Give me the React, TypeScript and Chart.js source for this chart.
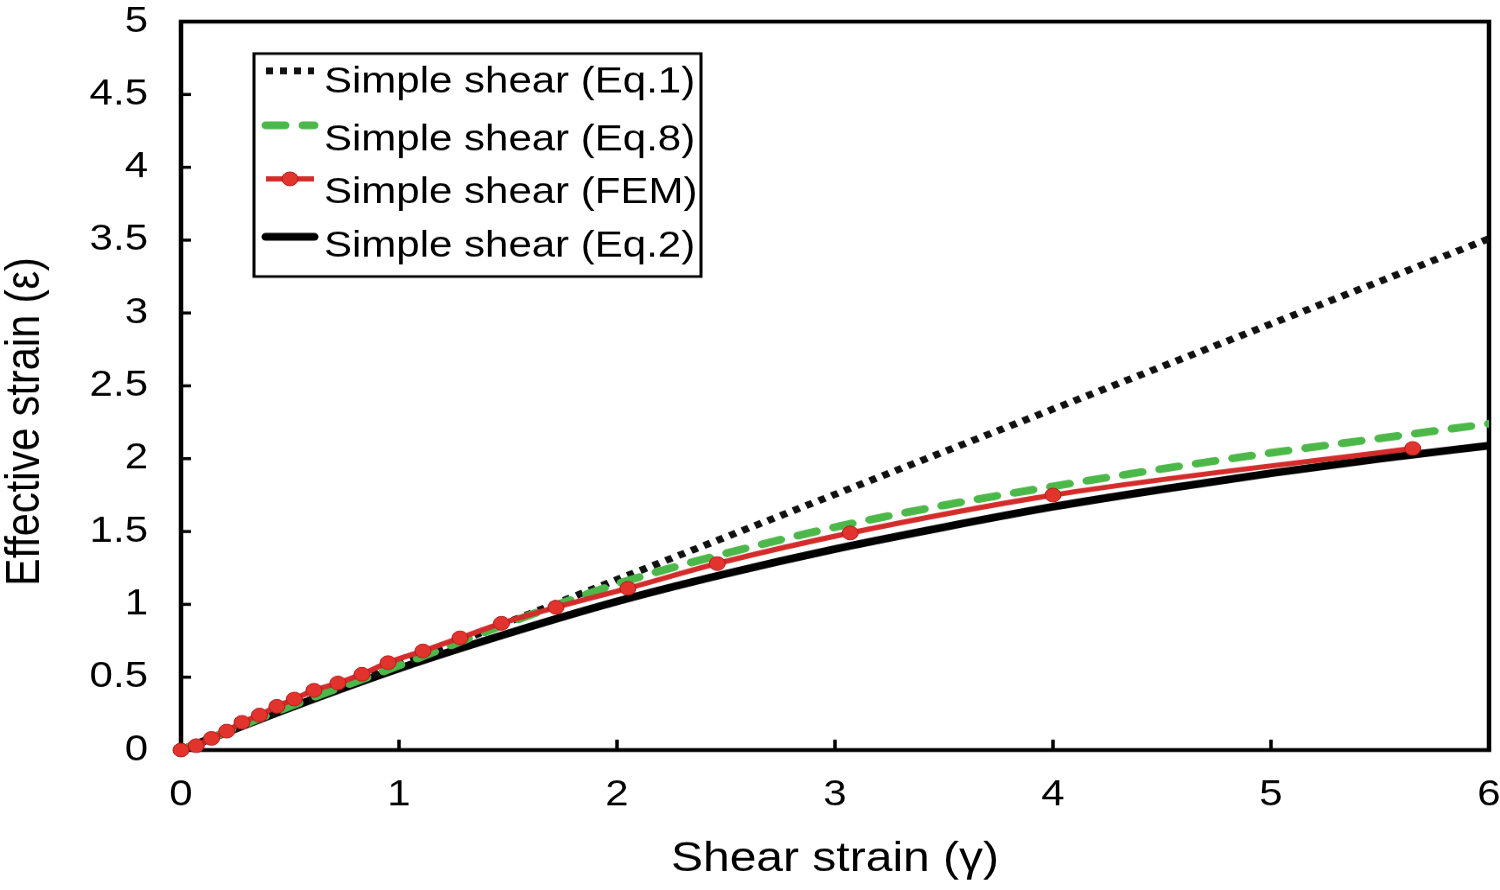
import React, { useEffect, useRef } from "react";
import { Chart, registerables } from "chart.js";

Chart.register(...registerables);

const FONT = '"Liberation Sans", Arial, Helvetica, sans-serif';

// Simple shear (Eq.1)
const eq1Gamma = [0, 1, 2, 3, 4, 5, 6];
const eq1Strain = [0, 0.585, 1.17, 1.755, 2.34, 2.925, 3.51];

// Simple shear (Eq.8)
const eq8Gamma = [0, 0.5, 1, 1.5, 2, 2.5, 3, 3.5, 4, 4.5, 5, 5.5, 6];
const eq8Strain = [0, 0.3, 0.58, 0.87, 1.14, 1.35, 1.53, 1.68, 1.81, 1.93, 2.04, 2.14, 2.24];

// Simple shear (FEM)
const femGamma = [
  0, 0.07, 0.14, 0.21, 0.28, 0.36, 0.44, 0.52, 0.61, 0.72, 0.83, 0.95, 1.11, 1.28, 1.47,
  1.72, 2.05, 2.46, 3.07, 4.0, 5.65,
];
const femStrain = [
  0, 0.03, 0.08, 0.13, 0.19, 0.24, 0.3, 0.35, 0.41, 0.46, 0.52, 0.6, 0.68, 0.77, 0.87,
  0.98, 1.11, 1.28, 1.49, 1.75, 2.07,
];

// Simple shear (Eq.2)
const eq2Gamma = [0, 0.5, 1, 1.5, 2, 2.5, 3, 3.5, 4, 4.5, 5, 5.5, 6];
const eq2Strain = [0, 0.29, 0.56, 0.8, 1.02, 1.21, 1.38, 1.53, 1.67, 1.79, 1.9, 2.0, 2.09];

const toPoints = (xs: number[], ys: number[]) => xs.map((x, i) => ({ x, y: ys[i] }));

// canvas is drawn taller and squeezed to 890px, like the source figure
const CANVAS_H = 1030;

// drop the extra room chart.js keeps for edge tick labels
const noEdgePadding = (s: any) => {
  s.paddingTop = 0;
  s.paddingBottom = 0;
  s.paddingLeft = 0;
  s.paddingRight = 0;
};

const framePlugin = {
  id: "frame",
  beforeDatasetsDraw(chart: any) {
    const { ctx, chartArea: a, scales } = chart;
    ctx.save();
    ctx.strokeStyle = "#000";
    ctx.lineWidth = 4.5;
    ctx.strokeRect(a.left, a.top, a.right - a.left, a.bottom - a.top);

    // inner tick marks
    ctx.lineWidth = 3.5;
    scales.y.ticks.forEach((t: any) => {
      if (t.value <= scales.y.min || t.value >= scales.y.max) return;
      const y = scales.y.getPixelForValue(t.value);
      ctx.beginPath();
      ctx.moveTo(a.left, y);
      ctx.lineTo(a.left + 10, y);
      ctx.stroke();
    });
    scales.x.ticks.forEach((t: any) => {
      if (t.value <= scales.x.min || t.value >= scales.x.max) return;
      const x = scales.x.getPixelForValue(t.value);
      ctx.beginPath();
      ctx.moveTo(x, a.bottom);
      ctx.lineTo(x, a.bottom - 12);
      ctx.stroke();
    });
    ctx.restore();
  },
  afterDraw(chart: any) {
    const { ctx } = chart;
    ctx.save();

    // y axis title
    ctx.translate(26, 488);
    ctx.rotate(-Math.PI / 2);
    ctx.fillStyle = "#000";
    ctx.font = `48px ${FONT}`;
    ctx.textAlign = "center";
    ctx.textBaseline = "middle";
    ctx.fillText("Effective strain (\u03b5)", 0, 0);
    ctx.setTransform(1, 0, 0, 1, 0, 0);

    // legend box
    const box = { left: 254, top: 62, right: 701, bottom: 320 };
    ctx.fillStyle = "#fff";
    ctx.fillRect(box.left, box.top, box.right - box.left, box.bottom - box.top);
    ctx.strokeStyle = "#000";
    ctx.lineWidth = 3;
    ctx.strokeRect(box.left, box.top, box.right - box.left, box.bottom - box.top);

    const sampleY = [82, 145, 207, 274];
    const textY = [95, 162, 223, 285];
    chart.data.datasets.forEach((ds: any, i: number) => {
      ctx.save();
      ctx.strokeStyle = ds.borderColor;
      ctx.lineWidth = ds.borderWidth;
      ctx.lineCap = ds.borderCapStyle || "butt";
      ctx.setLineDash(ds.borderDash || []);
      ctx.beginPath();
      ctx.moveTo(266, sampleY[i]);
      ctx.lineTo(314, sampleY[i]);
      ctx.stroke();
      if (ds.pointRadius > 0) {
        ctx.setLineDash([]);
        ctx.beginPath();
        ctx.arc(290, sampleY[i], ds.pointRadius, 0, Math.PI * 2);
        ctx.fillStyle = ds.pointBackgroundColor;
        ctx.fill();
        ctx.lineWidth = ds.pointBorderWidth;
        ctx.strokeStyle = ds.pointBorderColor;
        ctx.stroke();
      }
      ctx.restore();

      ctx.fillStyle = "#000";
      ctx.font = `42px ${FONT}`;
      ctx.textAlign = "left";
      ctx.textBaseline = "middle";
      ctx.fillText(ds.label, 324, textY[i]);
    });
    ctx.restore();
  },
};

export default function App() {
  const canvasRef = useRef<HTMLCanvasElement>(null);

  useEffect(() => {
    if (!canvasRef.current) return;

    const chart = new Chart(canvasRef.current, {
      type: "line",
      data: {
        datasets: [
          {
            label: "Simple shear (Eq.1)",
            data: toPoints(eq1Gamma, eq1Strain),
            borderColor: "#111111",
            borderWidth: 8,
            borderDash: [7, 7],
            borderCapStyle: "butt",
            pointRadius: 0,
            tension: 0,
            order: 2,
          },
          {
            label: "Simple shear (Eq.8)",
            data: toPoints(eq8Gamma, eq8Strain),
            borderColor: "#4cb849",
            borderWidth: 9,
            borderDash: [19, 18],
            borderCapStyle: "round",
            pointRadius: 0,
            cubicInterpolationMode: "monotone",
            order: 1,
          },
          {
            label: "Simple shear (FEM)",
            data: toPoints(femGamma, femStrain),
            borderColor: "#d42b2b",
            borderWidth: 6,
            pointRadius: 8,
            pointBackgroundColor: "#e3332d",
            pointBorderColor: "#b3191d",
            pointBorderWidth: 1,
            cubicInterpolationMode: "monotone",
            clip: false,
            order: 0,
          },
          {
            label: "Simple shear (Eq.2)",
            data: toPoints(eq2Gamma, eq2Strain),
            borderColor: "#000000",
            borderWidth: 9,
            borderCapStyle: "round",
            pointRadius: 0,
            cubicInterpolationMode: "monotone",
            order: 3,
          },
        ] as any,
      },
      options: {
        animation: false,
        responsive: false,
        devicePixelRatio: 1,
        events: [],
        layout: { padding: { top: 25, right: 11, left: 0, bottom: 0 } },
        plugins: {
          legend: { display: false },
          tooltip: { enabled: false },
        },
        scales: {
          x: {
            type: "linear",
            min: 0,
            max: 6,
            grid: { display: false, drawTicks: false },
            border: { display: false },
            ticks: {
              stepSize: 1,
              padding: 27,
              color: "#000",
              font: { family: FONT, size: 42 },
            },
            title: {
              display: true,
              text: "Shear strain (\u03b3)",
              color: "#000",
              font: { family: FONT, size: 48 },
              padding: { top: 0, bottom: 6 },
            },
            afterFit: (s: any) => {
              s.height = CANVAS_H - 868;
              noEdgePadding(s);
            },
          },
          y: {
            type: "linear",
            min: 0,
            max: 5,
            grid: { display: false, drawTicks: false },
            border: { display: false },
            ticks: {
              stepSize: 0.5,
              padding: 33,
              color: "#000",
              font: { family: FONT, size: 42 },
              callback: (v: any) => String(v),
            },
            afterFit: (s: any) => {
              s.width = 181;
              noEdgePadding(s);
            },
          },
        },
      } as any,
      plugins: [framePlugin],
    });

    return () => chart.destroy();
  }, []);

  return (
    <div
      style={{
        position: "absolute",
        left: 0,
        top: 0,
        width: 1500,
        height: 890,
        background: "#fff",
      }}
    >
      <canvas
        ref={canvasRef}
        width={1500}
        height={CANVAS_H}
        style={{ display: "block", width: "1500px", height: "890px" }}
      />
    </div>
  );
}
